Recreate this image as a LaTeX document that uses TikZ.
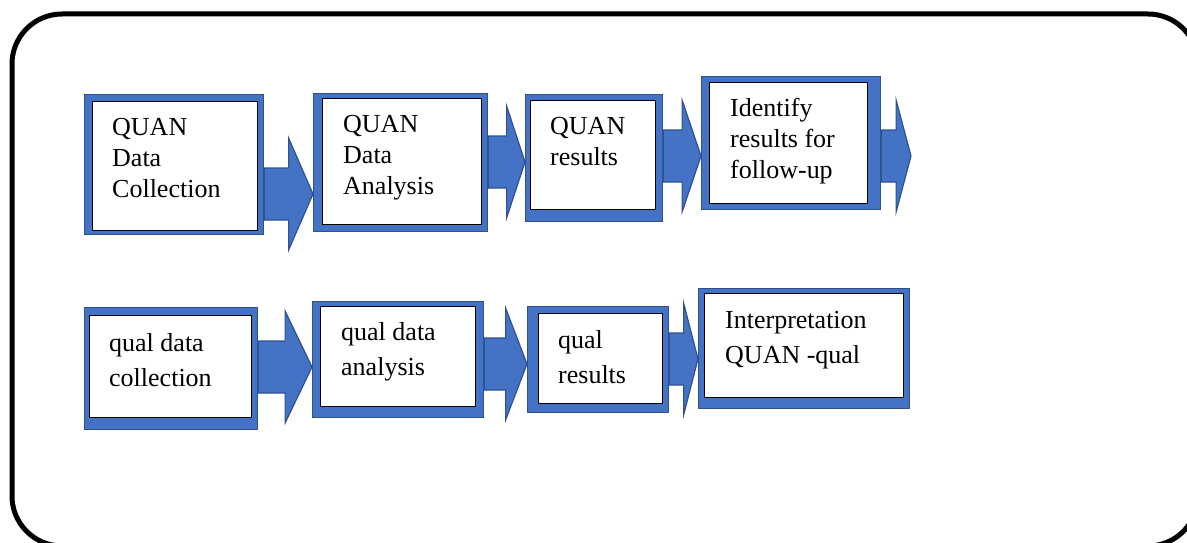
\documentclass[tikz,border=0pt]{standalone}
\usepackage{fontspec}
\setmainfont{Liberation Serif}
\usetikzlibrary{calc}

\definecolor{wordblue}{HTML}{4472C4}
\definecolor{wordedge}{HTML}{2F528F}

\tikzset{
    outerbox/.style={draw=wordedge, fill=wordblue, line width=1.2pt, inner sep=0pt, anchor=north west},
    innerbox/.style={draw=black, fill=white, line width=1.3pt, inner sep=0pt, anchor=north west},
    quantext/.style={font=\fontsize{26}{31}\selectfont, align=left, inner sep=0pt, anchor=base west},
    qualtext/.style={font=\fontsize{26}{35}\selectfont, align=left, inner sep=0pt, anchor=base west},
    blockarrow/.style={draw=wordedge, fill=wordblue, line width=1.2pt, line join=miter}
}

% block arrow: from anchor, to anchor, middle line (y)
\newcommand\flowarrow[3]{%
    \draw[blockarrow] let \p1=(#1), \p2=(#2), \p3=(0,#3), \n1={(\x1+\x2)/2} in
        (\x1,\y3+26pt) -- (\n1,\y3+26pt) -- (\n1,\y3+56pt) -- (\x2,\y3)
        -- (\n1,\y3-56pt) -- (\n1,\y3-26pt) -- (\x1,\y3-26pt) -- cycle;}

\begin{document}
\begin{tikzpicture}[x=1pt, y=-1pt]
        \useasboundingbox (0,0) rectangle (1187,543);
        \draw[line width=5pt, rounded corners=50pt] (12,14) rectangle (1198,546);

        % QUAN row (text placed by its last baseline)
        \node[outerbox, minimum width=179pt, minimum height=140pt] (qnColl) at (84,94) {};
        \node[innerbox, minimum width=165pt, minimum height=129pt] (qnCollIn) at (92,101) {};
        \node[quantext] (qnCollTxt) at (112,197) {QUAN\\Data\\Collection};

        \node[outerbox, minimum width=174pt, minimum height=138pt] (qnAnal) at (313,93) {};
        \node[innerbox, minimum width=159pt, minimum height=126pt] (qnAnalIn) at (322,98) {};
        \node[quantext] (qnAnalTxt) at (343,194) {QUAN\\Data\\Analysis};

        \node[outerbox, minimum width=137pt, minimum height=127pt] (qnRes) at (525,94) {};
        \node[innerbox, minimum width=125pt, minimum height=109pt] (qnResIn) at (530,100) {};
        \node[quantext] (qnResTxt) at (550,165) {QUAN\\results};

        \node[outerbox, minimum width=179pt, minimum height=133pt] (qnFollow) at (701,76) {};
        \node[innerbox, minimum width=158pt, minimum height=121pt] (qnFollowIn) at (709,82) {};
        \node[quantext] (qnFollowTxt) at (730,178) {Identify\\results for\\follow-up};
        \coordinate (qnEnd) at (911,156);

        % qual row
        \node[outerbox, minimum width=173pt, minimum height=122pt] (qlColl) at (84,307) {};
        \node[innerbox, minimum width=162pt, minimum height=102pt] (qlCollIn) at (89,315) {};
        \node[qualtext] (qlCollTxt) at (109,386) {qual data\\collection};

        \node[outerbox, minimum width=171pt, minimum height=116pt] (qlAnal) at (312,301) {};
        \node[innerbox, minimum width=155pt, minimum height=100pt] (qlAnalIn) at (320,306) {};
        \node[qualtext] (qlAnalTxt) at (341,375) {qual data\\analysis};

        \node[outerbox, minimum width=141pt, minimum height=106pt] (qlRes) at (527,306) {};
        \node[innerbox, minimum width=124pt, minimum height=90pt] (qlResIn) at (538,313) {};
        \node[qualtext] (qlResTxt) at (558,383) {qual\\results};

        \node[outerbox, minimum width=211pt, minimum height=120pt] (interp) at (698,288) {};
        \node[innerbox, minimum width=199pt, minimum height=104pt] (interpIn) at (704,293) {};
        \node[qualtext] (interpTxt) at (725,363) {Interpretation\\QUAN -qual};

        % arrows
        \flowarrow{qnColl.east}{qnAnal.west}{194}
        \flowarrow{qnAnal.east}{qnRes.west}{162}
        \flowarrow{qnRes.east}{qnFollow.west}{156}
        \flowarrow{qnFollow.east}{qnEnd}{156}
        \flowarrow{qlColl.east}{qlAnal.west}{367}
        \flowarrow{qlAnal.east}{qlRes.west}{364}
        \flowarrow{qlRes.east}{interp.west}{359}
\end{tikzpicture}
\end{document}
